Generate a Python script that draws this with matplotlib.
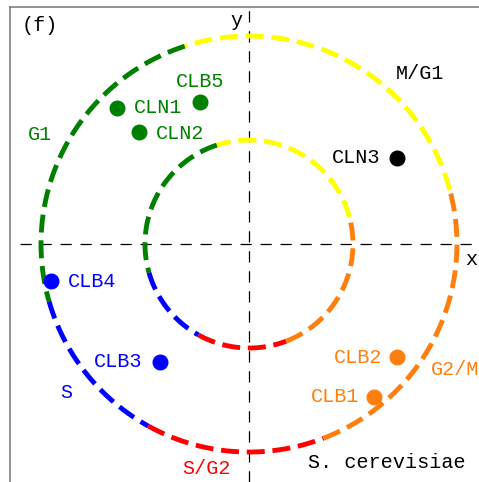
import matplotlib
matplotlib.use("Agg")
import matplotlib.pyplot as plt
import numpy as np

# cell-cycle phases on the circle (angles in degrees, counter-clockwise from +x)
phase_names = ["M/G1", "G1", "S", "S/G2", "G2/M"]
phase_start = [15, 108, 196, 241, 291]
phase_end = [108, 196, 241, 291, 375]
phase_colors = ["yellow", "green", "blue", "red", "#ff7f0e"]
radii = [1.0, 2.0]

# genes
genes = ["CLB5", "CLN1", "CLN2", "CLN3", "CLB4", "CLB3", "CLB2", "CLB1"]
gene_x = [-0.47, -1.27, -1.06, 1.42, -1.90, -0.86, 1.42, 1.20]
gene_y = [1.365, 1.31, 1.08, 0.83, -0.36, -1.13, -1.09, -1.47]
gene_colors = ["green", "green", "green", "black", "blue", "blue", "#ff7f0e", "#ff7f0e"]

FONT = ["Liberation Mono", "DejaVu Sans Mono"]
plt.rcParams["font.family"] = FONT
FS = 14.5

fig = plt.figure(figsize=(4.79, 4.82), dpi=100)
ax = fig.add_axes([10 / 479, 0, 469 / 479, 1 - 7 / 482])
ax.set_xlim(-2.298, 2.212)
ax.set_ylim(-2.288, 2.279)
ax.set_xticks([])
ax.set_yticks([])
for side in ["right", "bottom"]:
    ax.spines[side].set_visible(False)
for side in ["left", "top"]:
    ax.spines[side].set_color("#777777")
    ax.spines[side].set_linewidth(1.1)

# coordinate axes
ax.plot([-2.2, 2.212], [0, 0], color="black", lw=0.9, dashes=(9, 7), zorder=1)
ax.axvline(0, color="black", lw=0.9, dashes=(9, 7), zorder=1)

for r in radii:
    for a0, a1, col in zip(phase_start, phase_end, phase_colors):
        th = np.radians(np.linspace(a0, a1, 200))
        ax.plot(r * np.cos(th), r * np.sin(th), color=col, lw=3.5,
                linestyle="--", zorder=2)

offsets = {
    "CLB5": (0, 15, "center"),
    "CLN1": (12, 0, "left"),
    "CLN2": (12, -1, "left"),
    "CLN3": (-12, 0, "right"),
    "CLB4": (12, 0, "left"),
    "CLB3": (-12, 0, "right"),
    "CLB2": (-10, 0, "right"),
    "CLB1": (-10, 0, "right"),
}
for name, x, y, col in zip(genes, gene_x, gene_y, gene_colors):
    ax.plot(x, y, "o", color=col, ms=10.5, zorder=3)
    dx, dy, ha = offsets[name]
    ax.annotate(name, (x, y), xytext=(dx, dy), textcoords="offset points",
                ha=ha, va="center", color=col, fontsize=FS)

# phase labels
ax.text(-2.01, 1.05, "G1", color="green", fontsize=FS, ha="center", va="center")
ax.text(1.64, 1.64, "M/G1", color="black", fontsize=FS, ha="center", va="center")
ax.text(-1.76, -1.43, "S", color="blue", fontsize=FS, ha="center", va="center")
ax.text(-0.41, -2.16, "S/G2", color="red", fontsize=FS, ha="center", va="center")
ax.text(1.75, -1.21, "G2/M", color="#ff7f0e", fontsize=FS, ha="left", va="center",
        clip_on=False)

ax.text(2.14, -0.15, "x", fontsize=FS, ha="center", va="center")
ax.text(-0.12, 2.15, "y", fontsize=FS, ha="center", va="center")
ax.text(-2.01, 2.10, "(f)", fontsize=FS, ha="center", va="center")
ax.text(1.33, -2.10, "S. cerevisiae", fontsize=FS, ha="center", va="center")

fig.savefig("out.png", dpi=100)
